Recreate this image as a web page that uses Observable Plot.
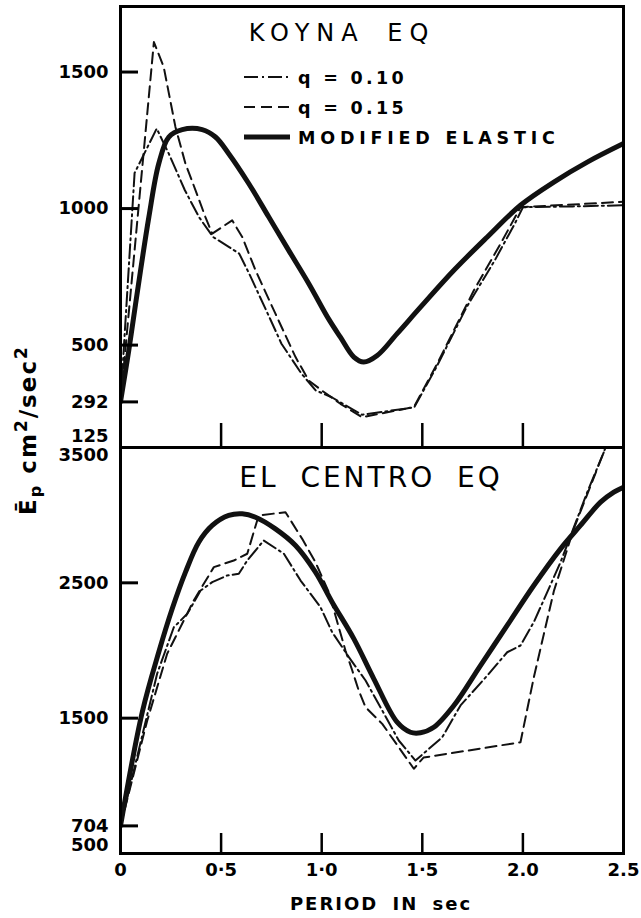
<!DOCTYPE html>
<html>
<head>
<meta charset="utf-8">
<script src="https://cdn.jsdelivr.net/npm/d3@7"></script>
<script src="https://cdn.jsdelivr.net/npm/@observablehq/plot@0.6"></script>
<style>
  html, body { margin: 0; padding: 0; background: #fff; }
  #wrap { position: relative; width: 641px; height: 918px; background: #fff; overflow: hidden; }
  #wrap > svg, #wrap > figure { position: absolute; left: 0; margin: 0; }
</style>
</head>
<body>
<div id="wrap"></div>
<script>
// ---------------- DATA ----------------
const xTicks = [0, 0.5, 1.0, 1.5, 2.0, 2.5];
const xTickLabels = ["0", "0·5", "1·0", "1·5", "2.0", "2.5"];
const xInnerTicks = [0.5, 1.0, 1.5, 2.0];

const koynaYTicks = [1500, 1000, 500, 292];
const koynaYEdge = [125];
const koynaQ10T = [0, 0.07, 0.18, 0.24, 0.32, 0.39, 0.46, 0.54, 0.59, 0.64, 0.74, 0.80, 0.90, 0.97, 1.05, 1.20, 1.46, 1.57, 1.72, 1.86, 1.96, 2.0, 2.25, 2.5];
const koynaQ10E = [292, 1130, 1293, 1201, 1067, 969, 896, 859, 835, 761, 602, 505, 395, 334, 309, 245, 272, 419, 639, 810, 945, 1005, 1008, 1012];
const koynaQ15T = [0, 0.166, 0.215, 0.273, 0.323, 0.373, 0.422, 0.456, 0.555, 0.605, 0.671, 0.770, 0.870, 0.936, 1.0, 1.093, 1.20, 1.458, 1.574, 1.756, 1.889, 1.988, 2.25, 2.5];
const koynaQ15E = [292, 1610, 1518, 1299, 1164, 1067, 969, 908, 957, 896, 774, 615, 456, 370, 334, 285, 236, 273, 432, 700, 871, 1005, 1015, 1025];
const koynaElasticT = [0, 0.041, 0.075, 0.141, 0.190, 0.240, 0.307, 0.406, 0.472, 0.538, 0.638, 0.737, 0.836, 0.936, 1.035, 1.093, 1.160, 1.209, 1.276, 1.375, 1.491, 1.657, 1.823, 1.988, 2.154, 2.320, 2.5];
const koynaElasticE = [292, 480, 651, 969, 1164, 1262, 1289, 1289, 1262, 1201, 1091, 969, 847, 725, 595, 529, 456, 438, 462, 542, 639, 774, 896, 1012, 1097, 1170, 1238];

const elcYTicks = [2500, 1500, 704];
const elcYEdgeTop = [3500];
const elcYEdgeBottom = [500];
const elcQ10T = [0, 0.182, 0.265, 0.332, 0.398, 0.456, 0.530, 0.588, 0.630, 0.712, 0.812, 0.895, 0.994, 1.052, 1.135, 1.218, 1.301, 1.383, 1.466, 1.599, 1.690, 1.823, 1.922, 1.988, 2.054, 2.121, 2.187, 2.320, 2.402, 2.5];
const elcQ10E = [704, 1828, 2172, 2271, 2443, 2505, 2554, 2567, 2665, 2813, 2715, 2517, 2320, 2135, 1951, 1778, 1557, 1335, 1187, 1359, 1594, 1815, 1987, 2037, 2209, 2431, 2652, 3170, 3465, 3950];
const elcQ15T = [0, 0.133, 0.232, 0.364, 0.464, 0.563, 0.630, 0.687, 0.820, 0.903, 0.969, 1.035, 1.118, 1.152, 1.184, 1.218, 1.301, 1.458, 1.506, 1.988, 2.054, 2.154, 2.253, 2.403, 2.5];
const elcQ15E = [704, 1483, 1976, 2370, 2616, 2665, 2715, 2998, 3022, 2825, 2652, 2431, 2000, 1852, 1704, 1581, 1458, 1126, 1209, 1322, 1800, 2440, 2900, 3470, 3850];
const elcElasticT = [0, 0.108, 0.190, 0.257, 0.323, 0.389, 0.456, 0.538, 0.605, 0.671, 0.770, 0.870, 0.969, 1.052, 1.160, 1.259, 1.375, 1.441, 1.491, 1.557, 1.657, 1.789, 1.922, 2.054, 2.187, 2.286, 2.386, 2.452, 2.5];
const elcElasticE = [704, 1544, 1987, 2308, 2579, 2800, 2924, 2998, 3010, 2985, 2899, 2776, 2579, 2357, 2086, 1791, 1470, 1396, 1392, 1433, 1594, 1889, 2185, 2480, 2751, 2924, 3096, 3170, 3207];

const panelTitles = ["KOYNA EQ", "EL CENTRO EQ"];
const legendLabels = ["q = 0.10", "q = 0.15", "MODIFIED ELASTIC"];
const xTitle = "PERIOD IN sec";

// ---------------- STYLES ----------------
const DASHDOT = "14,4,2,4";
const DASHED = "11,6";
const INK = "#111";
const FONT = "'DejaVu Sans', sans-serif";
const plotStyle = {fontFamily: FONT, fontSize: "18px", fontWeight: "bold", background: "transparent", color: "#000", overflow: "visible"};
const PLOT_W = 641, ML = 120, MR = 18;
const TOP_OFFSET = 0, BOTTOM_OFFSET = 440;
const X_DOMAIN = [0, 2.5];
const Y_TICK_LEN_PX = 18;
const yTickLenT = Y_TICK_LEN_PX * (X_DOMAIN[1] - X_DOMAIN[0]) / (PLOT_W - ML - MR); // tick length in period units

const series = (T, E) => T.map((t, i) => ({t, e: E[i]}));
const fmtX = d => xTickLabels[xTicks.indexOf(d)];
const fmtY = d => String(d);

function curveMarks(q10, q15, el) {
  return [
    Plot.line(q10, {x: "t", y: "e", stroke: INK, strokeWidth: 2, strokeDasharray: DASHDOT, clip: true}),
    Plot.line(q15, {x: "t", y: "e", stroke: INK, strokeWidth: 2, strokeDasharray: DASHED, clip: true}),
    Plot.line(el, {x: "t", y: "e", stroke: INK, strokeWidth: 5, curve: "catmull-rom", clip: true})
  ];
}
function yTickRules(ticks) {
  return Plot.ruleY(ticks, {y: d => d, x1: () => X_DOMAIN[0], x2: () => X_DOMAIN[0] + yTickLenT, stroke: "#000", strokeWidth: 3});
}

const wrap = document.getElementById("wrap");

// ---------------- TOP PANEL ----------------
const koynaPlot = Plot.plot({
  width: PLOT_W, height: 448,
  marginLeft: ML, marginRight: MR, marginTop: 6, marginBottom: 1,
  style: plotStyle,
  x: {domain: X_DOMAIN, label: null},
  y: {domain: [125, 1740], label: null},
  marks: [
    ...curveMarks(series(koynaQ10T, koynaQ10E), series(koynaQ15T, koynaQ15E), series(koynaElasticT, koynaElasticE)),
    yTickRules(koynaYTicks),
    Plot.axisY(koynaYTicks, {tickSize: 0, tickPadding: 12, tickFormat: fmtY, label: null}),
    Plot.axisY(koynaYEdge, {tickSize: 0, tickPadding: 12, dy: -11, tickFormat: fmtY, label: null}),
    Plot.axisX(xInnerTicks, {tickSize: -24, strokeWidth: 2.5, tickFormat: () => "", label: null}),
    Plot.frame({stroke: "#000", strokeWidth: 3})
  ]
});
koynaPlot.style.top = TOP_OFFSET + "px";
wrap.appendChild(koynaPlot);

// ---------------- BOTTOM PANEL ----------------
const elCentroPlot = Plot.plot({
  width: PLOT_W, height: 478,
  marginLeft: ML, marginRight: MR, marginTop: 7, marginBottom: 65,
  style: plotStyle,
  x: {domain: X_DOMAIN, label: null},
  y: {domain: [500, 3500], label: null},
  marks: [
    ...curveMarks(series(elcQ10T, elcQ10E), series(elcQ15T, elcQ15E), series(elcElasticT, elcElasticE)),
    yTickRules(elcYTicks),
    Plot.axisY(elcYTicks, {tickSize: 0, tickPadding: 12, tickFormat: fmtY, label: null}),
    Plot.axisY(elcYEdgeTop, {tickSize: 0, tickPadding: 12, dy: 8, tickFormat: fmtY, label: null}),
    Plot.axisY(elcYEdgeBottom, {tickSize: 0, tickPadding: 12, dy: -8, tickFormat: fmtY, label: null}),
    Plot.axisX(xInnerTicks, {tickSize: -20, strokeWidth: 2.5, tickFormat: () => "", label: null}),
    Plot.axisX(xTicks, {tickSize: 0, tickPadding: 10, tickFormat: fmtX, label: null}),
    Plot.frame({stroke: "#000", strokeWidth: 3})
  ]
});
elCentroPlot.style.top = BOTTOM_OFFSET + "px";
wrap.appendChild(elCentroPlot);

// ---------------- OVERLAY: titles, legend, axis titles ----------------
const ov = d3.select(wrap).append("svg")
  .attr("width", 641).attr("height", 918)
  .style("position", "absolute").style("left", "0px").style("top", "0px")
  .style("font-family", FONT).style("pointer-events", "none");

ov.append("text").attr("x", 342).attr("y", 41).attr("text-anchor", "middle")
  .attr("font-size", 24).attr("letter-spacing", 7).attr("word-spacing", 8)
  .attr("fill", "#000").text(panelTitles[0]);
ov.append("text").attr("x", 371).attr("y", 487).attr("text-anchor", "middle")
  .attr("font-size", 28).attr("letter-spacing", 3).attr("word-spacing", 10)
  .attr("fill", "#000").text(panelTitles[1]);

const legendDash = [DASHDOT, DASHED, null];
const legendWidth = [2, 2, 5];
const legendSpacing = [3.3, 3.3, 4.8];
legendLabels.forEach((lab, i) => {
  const cy = 77 + i * 30;
  ov.append("line").attr("x1", 244).attr("x2", 290).attr("y1", cy).attr("y2", cy)
    .attr("stroke", INK).attr("stroke-width", legendWidth[i])
    .attr("stroke-dasharray", legendDash[i]);
  ov.append("text").attr("x", 298).attr("y", cy + 6.5)
    .attr("font-size", 17.5).attr("font-weight", "bold").attr("letter-spacing", legendSpacing[i])
    .attr("fill", "#000").text(lab);
});

ov.append("text").attr("x", 381).attr("y", 910).attr("text-anchor", "middle")
  .attr("font-size", 18).attr("font-weight", "bold").attr("letter-spacing", 2).attr("word-spacing", 6)
  .attr("fill", "#000").text(xTitle);

const yt = ov.append("text").attr("transform", "translate(36,430) rotate(-90)")
  .attr("text-anchor", "middle").attr("font-size", 23).attr("font-weight", "bold")
  .attr("letter-spacing", 2).attr("fill", "#000");
yt.append("tspan").text("Ē");
yt.append("tspan").attr("font-size", 16).attr("dy", 5).text("p");
yt.append("tspan").attr("dy", -5).text("\u00a0cm");
yt.append("tspan").attr("font-size", 17).attr("dy", -9).text("2");
yt.append("tspan").attr("dy", 9).text("/sec");
yt.append("tspan").attr("font-size", 17).attr("dy", -9).text("2");
</script>
</body>
</html>
